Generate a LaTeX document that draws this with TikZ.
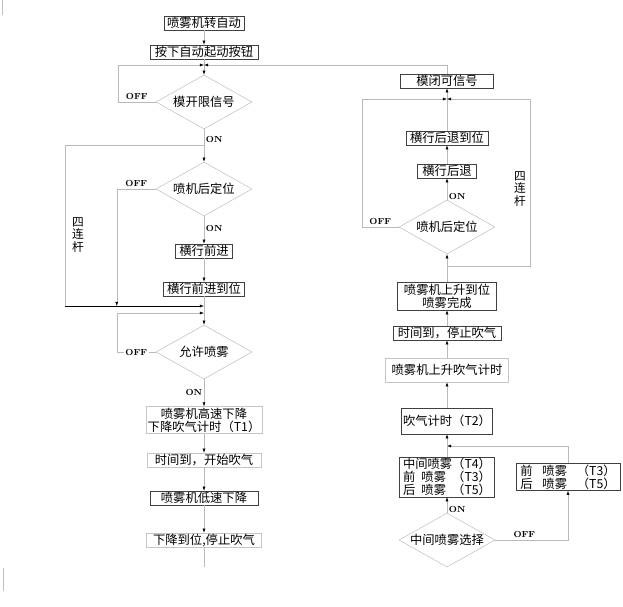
\documentclass[tikz,border=0pt]{standalone}
\usepackage{fontspec}
\newfontfamily\cjk{Noto Sans CJK SC}
\usepackage{tikz}
\usetikzlibrary{shapes.geometric,arrows.meta}
\usetikzlibrary{positioning}

\begin{document}
\begin{tikzpicture}[x=0.03cm, y=-0.03cm, >={Latex[length=3.5pt,width=2.5pt,black]},
    every node/.style={font=\cjk\fontsize{10.5}{11}\selectfont},
    frame/.style={draw=black!75, inner sep=1pt},
    box/.style={frame, text height=0.85em, text depth=0.15em},
    pale/.style={draw=gray!45},
    test/.style={draw=gray!55, diamond, aspect=1.8, inner sep=0pt, minimum width=2.88cm, minimum height=1.62cm},
    link/.style={draw=gray!55},
    line/.style={link, ->},
    tag/.style={font=\rmfamily\bfseries\fontsize{7.5}{8}\selectfont, inner sep=1.5pt},
    side/.style={align=center, font=\cjk\fontsize{10}{10.5}\selectfont}]
			\useasboundingbox (0,0) rectangle (623,606);
			\draw[gray!50] (2,0) -- (2,15);
			\draw[gray!50] (3,568) -- (3,591);
			% left column
			\node[box, minimum width=2.40cm] (Auto) at (204,23) {喷雾机转自动};
			\node[box, below of=Auto, node distance=0.87cm, minimum width=3.24cm] (Press) {按下自动起动按钮};
			\node[test, below of=Press, node distance=1.50cm] (OpenLimit) {模开限信号};
			\node[test, below of=OpenLimit, node distance=2.61cm] (RearPos) {喷机后定位};
			\node[box, below of=RearPos, node distance=1.86cm, minimum width=1.71cm] (Fwd) {横行前进};
			\node[box, below of=Fwd, node distance=1.14cm, minimum width=2.43cm] (FwdDone) {横行前进到位};
			\node[test, below of=FwdDone, node distance=1.89cm] (Allow) {允许喷雾};
			\node[frame, pale, align=center, below of=Allow, node distance=2.04cm, minimum width=3.48cm, minimum height=0.75cm] (FastDown) {喷雾机高速下降\\下降吹气计时（T1）};
			\node[box, pale, below of=FastDown, node distance=1.20cm, minimum width=3.42cm] (BlowOn) {时间到，开始吹气};
			\node[box, below of=BlowOn, node distance=1.14cm, minimum width=3.24cm] (SlowDown) {喷雾机低速下降};
			\node[box, pale, below of=SlowDown, node distance=1.26cm, minimum width=3.45cm] (DownDone) {下降到位,停止吹气};
			\coordinate[below of=Press, node distance=0.39cm] (J1);
			\coordinate[below of=OpenLimit, node distance=1.29cm] (J2);
			\coordinate[below of=FwdDone, node distance=0.51cm] (J3);
			\coordinate[below of=FwdDone, node distance=0.72cm] (J4);
			\coordinate[left of=J3, node distance=4.17cm] (C1);
			\coordinate[below of=DownDone, node distance=0.81cm] (E1);
			\node[side] (LinkL) at (78,235) {四\\连\\杆};
			% right column
			\node[box, minimum width=2.79cm] (ClosePermit) at (447,81) {模闭可信号};
			\node[box, below of=ClosePermit, node distance=1.71cm, minimum width=2.46cm] (BackDone) {横行后退到位};
			\node[box, below of=BackDone, node distance=0.99cm, minimum width=1.77cm] (Back) {横行后退};
			\node[test, below of=Back, node distance=1.68cm] (RearPosB) {喷机后定位};
			\node[frame, align=center, below of=RearPosB, node distance=2.07cm, minimum width=2.97cm, minimum height=0.84cm] (RiseDone) {喷雾机上升到位\\喷雾完成};
			\node[box, below of=RiseDone, node distance=1.11cm, minimum width=3.24cm] (BlowOff) {时间到，停止吹气};
			\node[box, pale, below of=BlowOff, node distance=1.11cm, minimum width=3.69cm, minimum height=0.72cm] (RiseTimer) {喷雾机上升吹气计时};
			\node[box, below of=RiseTimer, node distance=1.53cm, minimum width=2.73cm, minimum height=0.78cm] (BlowTimer) {吹气计时（T2）};
			\node[frame, align=left, below of=BlowTimer, node distance=1.68cm, minimum width=2.85cm, minimum height=1.14cm] (MidSpray) {中间喷雾（T4）\\前\hspace{0.5em}喷雾\hspace{0.5em}（T3）\\后\hspace{0.5em}喷雾\hspace{0.5em}（T5）};
			\node[test, below of=MidSpray, node distance=1.89cm] (MidChoice) {中间喷雾选择};
			\node[frame, align=left, right of=MidSpray, node distance=3.63cm, minimum width=3.12cm, minimum height=0.81cm] (EndSpray) {前\hspace{0.8em}喷雾\hspace{0.8em}（T3）\\后\hspace{0.8em}喷雾\hspace{0.8em}（T5）};
			\coordinate[below of=ClosePermit, node distance=0.54cm] (K1);
			\coordinate[below of=RearPosB, node distance=1.17cm] (K2);
			\coordinate[above of=MidSpray, node distance=0.93cm] (K3);
			\node[side] (LinkR) at (520,189) {四\\连\\杆};
			% left connectors
			\draw[line] (Auto) -- (Press);
			\draw[line] (Press) -- (OpenLimit);
			\draw[line] (OpenLimit.west) -- ++(-38,0) node[tag, above, midway] {OFF} |- (J1);
			\draw[line] (ClosePermit) |- (J1);
			\draw[line] (OpenLimit) -- (RearPos) node[tag, right, pos=0.3] {ON};
			\draw[link] (J2) -| (C1);
			\draw[->, black] (C1) -- (J3);
			\draw[line] (RearPos.west) -- ++(-39,0) coordinate (C2) node[tag, above, midway] {OFF} -- (C2 |- J3);
			\draw[line] (RearPos) -- (Fwd) node[tag, right, pos=0.45] {ON};
			\draw[line] (Fwd) -- (FwdDone);
			\draw[line] (FwdDone) -- (Allow);
			\draw[line] (Allow.west) -- ++(-39,0) node[tag, fill=white, midway] {OFF} |- (J4);
			\draw[line] (Allow) -- (FastDown) node[tag, left, midway] {ON};
			\draw[line] (FastDown) -- (BlowOn);
			\draw[line] (BlowOn) -- (SlowDown);
			\draw[line] (SlowDown) -- (DownDone);
			\draw[link] (DownDone) -- (E1);
			% right connectors
			\draw[line] (MidChoice) -- (MidSpray) node[tag, right, pos=0.2] {ON};
			\draw[line] (MidChoice.east) -| (EndSpray) node[tag, above, pos=0.2] {OFF};
			\draw[line] (EndSpray) |- (K3);
			\draw[line] (MidSpray) -- (BlowTimer);
			\draw[line] (BlowTimer) -- (RiseTimer);
			\draw[line] (RiseTimer) -- (BlowOff);
			\draw[line] (BlowOff) -- (RiseDone);
			\draw[line] (RiseDone) -- (RearPosB);
			\draw[line] (RearPosB) -- (Back) node[tag, right, pos=0.15] {ON};
			\draw[line] (Back) -- (BackDone);
			\draw[line] (BackDone) -- (ClosePermit);
			\draw[line] (RearPosB.west) -- ++(-37,0) node[tag, above, midway] {OFF} |- (K1);
			\draw[line] (K2) -- ++(83,0) |- (K1);
		\end{tikzpicture}
\end{document}
